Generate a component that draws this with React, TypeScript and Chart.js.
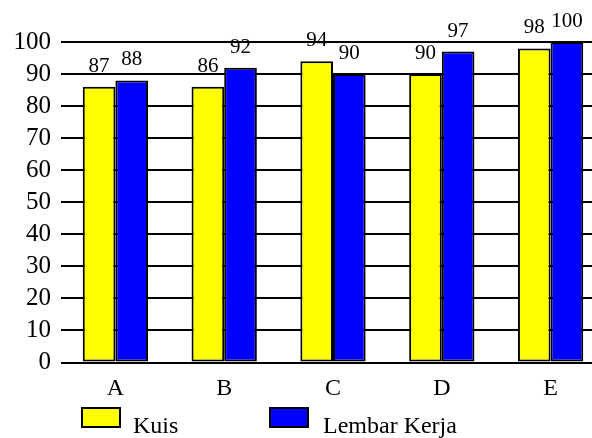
import React, { useEffect, useRef } from "react";
import { Chart, registerables } from "chart.js";

Chart.register(...registerables);

const categories = ["A", "B", "C", "D", "E"];
const kuisValues = [86, 86, 94, 90, 98];
const kerjaValues = [88, 92, 90, 97, 100];
const kuisLabels = ["87", "86", "94", "90", "98"];
const kerjaLabels = ["88", "92", "90", "97", "100"];
const seriesNames = ["Kuis", "Lembar Kerja"];
const seriesColors = ["#FFFF00", "#0000FF"];
const yTicks = [0, 10, 20, 30, 40, 50, 60, 70, 80, 90, 100];

const FONT = '"Liberation Serif", "Times New Roman", serif';

const valueLabelPlugin = {
  id: "valueLabels",
  afterDatasetsDraw(chart: any) {
    const ctx = chart.ctx;
    const labelSets = [kuisLabels, kerjaLabels];
    ctx.save();
    ctx.font = `21px ${FONT}`;
    ctx.fillStyle = "#000";
    ctx.textAlign = "center";
    ctx.textBaseline = "alphabetic";
    chart.data.datasets.forEach((_ds: any, di: number) => {
      const meta = chart.getDatasetMeta(di);
      meta.data.forEach((bar: any, i: number) => {
        ctx.fillText(labelSets[di][i], bar.x, bar.y - 15);
      });
    });
    ctx.restore();
  },
};

export default function App() {
  const canvasRef = useRef<HTMLCanvasElement | null>(null);

  useEffect(() => {
    document.documentElement.style.overflow = "hidden";
    document.body.style.overflow = "hidden";
    const canvas = canvasRef.current;
    if (!canvas) return;
    const chart = new Chart(canvas, {
      type: "bar",
      data: {
        labels: categories,
        datasets: [
          {
            label: seriesNames[0],
            data: kuisValues,
            backgroundColor: seriesColors[0],
            borderColor: "#000",
            borderWidth: 2,
            borderSkipped: false,
            categoryPercentage: 0.6,
            barPercentage: 1,
          },
          {
            label: seriesNames[1],
            data: kerjaValues,
            backgroundColor: seriesColors[1],
            borderColor: "#000",
            borderWidth: 2,
            borderSkipped: false,
            categoryPercentage: 0.6,
            barPercentage: 1,
          },
        ],
      },
      options: {
        responsive: false,
        animation: false,
        devicePixelRatio: 1,
        layout: { padding: { top: 42, left: 0, right: 0, bottom: 0 } },
        plugins: {
          legend: { display: false },
          tooltip: { enabled: false },
        },
        scales: {
          x: {
            grid: { display: false, drawTicks: false },
            border: { display: false },
            ticks: {
              font: { family: FONT, size: 24 },
              color: "#000",
              padding: 12,
            },
            afterFit: (s: any) => {
              s.height = 75.5;
            },
          },
          y: {
            min: 0,
            max: 100,
            afterBuildTicks: (s: any) => {
              s.ticks = yTicks.map((v) => ({ value: v }));
            },
            grid: { color: "#000", lineWidth: 2, drawTicks: false },
            border: { display: false },
            ticks: {
              autoSkip: false,
              font: { family: FONT, size: 25 },
              color: "#000",
              padding: 10,
            },
            afterFit: (s: any) => {
              s.width = 61;
            },
          },
        },
      },
      plugins: [valueLabelPlugin],
    });
    return () => chart.destroy();
  }, []);

  const boxStyle = (color: string, left: number): React.CSSProperties => ({
    position: "absolute",
    left,
    top: 407,
    width: 36,
    height: 17,
    background: color,
    border: "2px solid #000",
  });
  const textStyle = (left: number): React.CSSProperties => ({
    position: "absolute",
    left,
    top: 413,
    fontFamily: FONT,
    fontSize: 24,
    lineHeight: "24px",
    color: "#000",
    whiteSpace: "nowrap",
  });

  return (
    <div style={{ position: "absolute", left: 0, top: 0, width: 605, height: 438, overflow: "visible" }}>
      <canvas ref={canvasRef} width={605} height={438} style={{ display: "block" }} />
      <div style={boxStyle(seriesColors[0], 81)} />
      <div style={textStyle(133)}>{seriesNames[0]}</div>
      <div style={boxStyle(seriesColors[1], 269)} />
      <div style={textStyle(323)}>{seriesNames[1]}</div>
    </div>
  );
}
